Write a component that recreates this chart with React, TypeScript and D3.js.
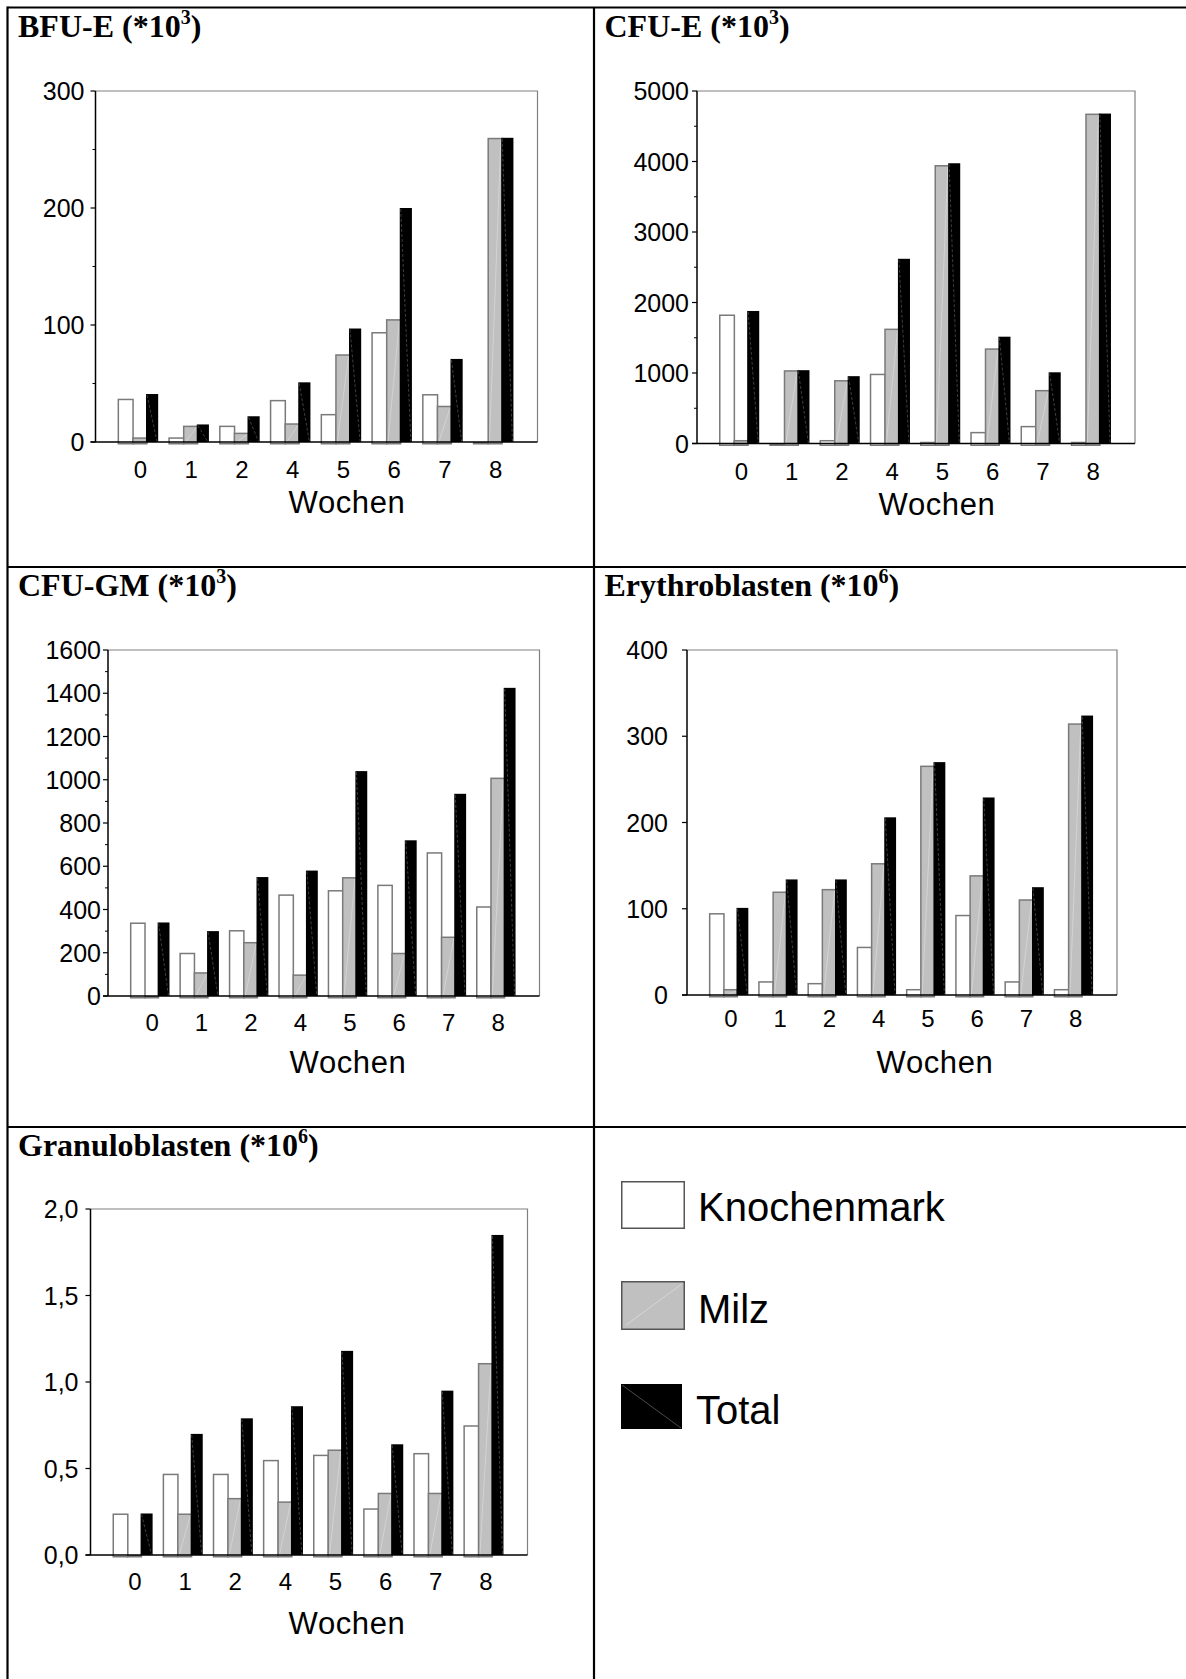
import React from "react";
import * as d3 from "d3";

// Weeks after infection (category axis, shared by all panels)
const weeks = ["0", "1", "2", "4", "5", "6", "7", "8"];
const seriesNames = ["Knochenmark", "Milz", "Total"];

// BFU-E (*10^3)
const bfuKnochenmark = [37, 4, 14, 36, 24, 94, 41, 0];
const bfuMilz = [4, 14, 8, 16, 75, 105, 31, 260];
const bfuTotal = [41, 15, 22, 51, 97, 200, 71, 260];
const bfuTicks = [0, 100, 200, 300];
const bfuMinorTicks = [50, 150, 250];

// CFU-E (*10^3)
const cfueKnochenmark = [1830, 0, 50, 990, 25, 165, 250, 25];
const cfueMilz = [50, 1040, 900, 1630, 3950, 1350, 760, 4680];
const cfueTotal = [1880, 1040, 955, 2620, 3975, 1515, 1010, 4680];
const cfueTicks = [0, 1000, 2000, 3000, 4000, 5000];
const cfueMinorTicks = [500, 1500, 2500, 3500, 4500];

// CFU-GM (*10^3)
const gmKnochenmark = [340, 200, 305, 470, 490, 515, 665, 415];
const gmMilz = [0, 110, 250, 100, 550, 200, 275, 1010];
const gmTotal = [340, 300, 550, 580, 1040, 720, 935, 1425];
const gmTicks = [0, 200, 400, 600, 800, 1000, 1200, 1400, 1600];
const gmMinorTicks = [100, 300, 500, 700, 900, 1100, 1300, 1500];

// Erythroblasten (*10^6)
const eryKnochenmark = [95, 16, 14, 56, 7, 93, 16, 7];
const eryMilz = [7, 120, 123, 153, 266, 139, 111, 315];
const eryTotal = [101, 134, 134, 206, 270, 229, 125, 324];
const eryTicks = [0, 100, 200, 300, 400];

// Granuloblasten (*10^6)
const granKnochenmark = [0.24, 0.47, 0.47, 0.55, 0.58, 0.27, 0.59, 0.75];
const granMilz = [0, 0.24, 0.33, 0.31, 0.61, 0.36, 0.36, 1.11];
const granTotal = [0.24, 0.7, 0.79, 0.86, 1.18, 0.64, 0.95, 1.85];
const granTicks = [0, 0.5, 1.0, 1.5, 2.0];

const SANS = "'Liberation Sans', Arial, sans-serif";
const SERIF = "'Liberation Serif', 'Times New Roman', serif";

const deLocale = d3.formatLocale({
  decimal: ",",
  thousands: ".",
  grouping: [3],
  currency: ["", " €"],
});
const fmtInt = deLocale.format("d");
const fmtOne = deLocale.format(".1f");

const FILL = { Knochenmark: "#ffffff", Milz: "#c0c0c0", Total: "#000000" };
// fraction of the group width occupied by each series bar (bars overlap slightly)
const SLOT = {
  Knochenmark: [0, 0.4],
  Milz: [0.36, 0.74],
  Total: [0.7, 1.0],
};

type PanelProps = {
  title: string;
  exp: string;
  values: number[][];
  ticks: number[];
  minorTicks: number[];
  fmt: (v: number) => string;
  box: [number, number, number, number];
  labelGap: number;
  xLabelDy: number;
  wochen: [number, number];
  titlePos: [number, number];
};

function Panel(p: PanelProps) {
  const [left, right, top, bottom] = p.box;
  const max = p.ticks[p.ticks.length - 1];
  const y = d3.scaleLinear().domain([0, max]).range([bottom, top]);
  const x = d3
    .scaleBand<string>()
    .domain(weeks)
    .range([left + 17, right - 19])
    .paddingInner(0.2)
    .paddingOuter(0.1);
  const bw = x.bandwidth();
  const y0 = y(0);

  return (
    <g>
      <text
        x={p.titlePos[0]}
        y={p.titlePos[1]}
        fontFamily={SERIF}
        fontWeight="bold"
        fontSize={32}
        fill="#000"
      >
        {p.title} (*10
        <tspan dy={-13} fontSize={20}>
          {p.exp}
        </tspan>
        <tspan dy={13}>)</tspan>
      </text>

      {/* plot frame: top and right edges */}
      <path
        d={`M${left},${top}H${right}V${y0}`}
        fill="none"
        stroke="#808080"
        strokeWidth={1.2}
      />

      {/* bars */}
      {weeks.map((w, i) => {
        const gx = x(w) as number;
        return (
          <g key={w}>
            {seriesNames.map((s, si) => {
              const v = p.values[si][i];
              const [f0, f1] = SLOT[s as keyof typeof SLOT];
              const xs = gx + f0 * bw;
              const xe = gx + f1 * bw;
              const yt = y(v);
              if (s === "Total") {
                return (
                  <g key={s}>
                    <rect x={xs} y={yt} width={xe - xs} height={y0 - yt} fill="#000" />
                    <line
                      x1={xs + 1}
                      y1={yt + 1}
                      x2={xe - 1}
                      y2={y0}
                      stroke="#7a7a7a"
                      strokeWidth={0.5}
                      strokeDasharray="3 2"
                    />
                  </g>
                );
              }
              const yb = y0 + 2.5;
              return (
                <g key={s}>
                  <rect
                    x={xs + 0.75}
                    y={yt + 0.75}
                    width={xe - xs - 1.5}
                    height={Math.max(0.5, yb - yt - 1.5)}
                    fill={FILL[s as keyof typeof FILL]}
                    stroke="#7a7a7a"
                    strokeWidth={1.5}
                  />
                  {s === "Milz" && yb - yt > 8 ? (
                    <line
                      x1={xs + 2}
                      y1={yb - 2}
                      x2={xe - 2}
                      y2={yt + 2}
                      stroke="#ffffff"
                      strokeOpacity={0.5}
                      strokeWidth={0.6}
                    />
                  ) : null}
                </g>
              );
            })}
          </g>
        );
      })}

      {/* value axis */}
      <line x1={left} y1={top} x2={left} y2={y0} stroke="#000" strokeWidth={1.5} />
      {p.ticks.map((t) => (
        <g key={"t" + t}>
          <line x1={left - 5} x2={left} y1={y(t)} y2={y(t)} stroke="#000" strokeWidth={1.2} />
          <text
            x={left - p.labelGap}
            y={y(t)}
            dy="0.36em"
            textAnchor="end"
            fontFamily={SANS}
            fontSize={25}
            fill="#000"
          >
            {p.fmt(t)}
          </text>
        </g>
      ))}
      {p.minorTicks.map((t) => (
        <line
          key={"m" + t}
          x1={left - 3}
          x2={left}
          y1={y(t)}
          y2={y(t)}
          stroke="#000"
          strokeWidth={1}
        />
      ))}

      {/* category axis */}
      <line x1={left - 5} y1={y0} x2={right} y2={y0} stroke="#000" strokeWidth={1.5} />
      {weeks.map((w) => (
        <text
          key={"x" + w}
          x={(x(w) as number) + bw * 0.56}
          y={y0 + p.xLabelDy}
          textAnchor="middle"
          fontFamily={SANS}
          fontSize={24}
          fill="#000"
        >
          {w}
        </text>
      ))}
      <text
        x={p.wochen[0]}
        y={p.wochen[1]}
        textAnchor="middle"
        fontFamily={SANS}
        fontSize={31}
        letterSpacing={0.6}
        fill="#000"
      >
        Wochen
      </text>
    </g>
  );
}

const panels: PanelProps[] = [
  {
    title: "BFU-E",
    exp: "3",
    values: [bfuKnochenmark, bfuMilz, bfuTotal],
    ticks: bfuTicks,
    minorTicks: bfuMinorTicks,
    fmt: fmtInt,
    box: [95.5, 537.5, 91, 442],
    labelGap: 11,
    xLabelDy: 36,
    wochen: [347, 513],
    titlePos: [18, 37],
  },
  {
    title: "CFU-E",
    exp: "3",
    values: [cfueKnochenmark, cfueMilz, cfueTotal],
    ticks: cfueTicks,
    minorTicks: cfueMinorTicks,
    fmt: fmtInt,
    box: [697, 1135, 91, 443.5],
    labelGap: 8,
    xLabelDy: 36,
    wochen: [937, 515],
    titlePos: [604.5, 37],
  },
  {
    title: "CFU-GM",
    exp: "3",
    values: [gmKnochenmark, gmMilz, gmTotal],
    ticks: gmTicks,
    minorTicks: gmMinorTicks,
    fmt: fmtInt,
    box: [108, 539.5, 650, 996],
    labelGap: 7,
    xLabelDy: 35,
    wochen: [348, 1073],
    titlePos: [18, 596],
  },
  {
    title: "Erythroblasten",
    exp: "6",
    values: [eryKnochenmark, eryMilz, eryTotal],
    ticks: eryTicks,
    minorTicks: [],
    fmt: fmtInt,
    box: [687, 1117, 650, 995],
    labelGap: 19,
    xLabelDy: 32,
    wochen: [935, 1073],
    titlePos: [604.5, 596],
  },
  {
    title: "Granuloblasten",
    exp: "6",
    values: [granKnochenmark, granMilz, granTotal],
    ticks: granTicks,
    minorTicks: [],
    fmt: fmtOne,
    box: [90.5, 527.5, 1209, 1555],
    labelGap: 12,
    xLabelDy: 35,
    wochen: [347, 1634],
    titlePos: [18, 1156],
  },
];

function Legend() {
  const items = [
    { name: "Knochenmark", box: [621, 1181, 64, 48], text: [698, 1221] },
    { name: "Milz", box: [621, 1281, 64, 49], text: [698, 1323] },
    { name: "Total", box: [621, 1384, 61, 45], text: [696, 1424] },
  ];
  return (
    <g>
      {items.map((it) => {
        const [bx, by, bw, bh] = it.box;
        const fill = FILL[it.name as keyof typeof FILL];
        return (
          <g key={it.name}>
            {it.name === "Total" ? (
              <>
                <rect x={bx} y={by} width={bw} height={bh} fill="#000" />
                <line x1={bx + 1} y1={by + 1} x2={bx + bw - 1} y2={by + bh - 1} stroke="#7a7a7a" strokeWidth={0.6} />
              </>
            ) : (
              <>
                <rect
                  x={bx + 0.75}
                  y={by + 0.75}
                  width={bw - 1.5}
                  height={bh - 1.5}
                  fill={fill}
                  stroke="#555"
                  strokeWidth={1.5}
                />
                {it.name === "Milz" ? (
                  <line x1={bx + 5} y1={by + bh - 5} x2={bx + bw - 3} y2={by + 3} stroke="#fff" strokeOpacity={0.6} strokeWidth={0.6} />
                ) : null}
              </>
            )}
            <text x={it.text[0]} y={it.text[1]} fontFamily={SANS} fontSize={40} fill="#000">
              {it.name}
            </text>
          </g>
        );
      })}
    </g>
  );
}

export default function App() {
  const W = 1186;
  const H = 1679;
  return (
    <svg
      width={W}
      height={H}
      viewBox={`0 0 ${W} ${H}`}
      style={{ position: "absolute", left: 0, top: 0, background: "#fff" }}
    >
      <rect x={0} y={0} width={W} height={H} fill="#fff" />
      {/* outer table grid */}
      <g stroke="#000" strokeWidth={2.2} fill="none">
        <line x1={7.5} y1={7.5} x2={W} y2={7.5} />
        <line x1={7.5} y1={6.4} x2={7.5} y2={H} />
        <line x1={594} y1={7.5} x2={594} y2={H} />
        <line x1={7.5} y1={567} x2={W} y2={567} />
        <line x1={7.5} y1={1127} x2={W} y2={1127} />
      </g>
      {panels.map((p) => (
        <Panel key={p.title} {...p} />
      ))}
      <Legend />
    </svg>
  );
}
